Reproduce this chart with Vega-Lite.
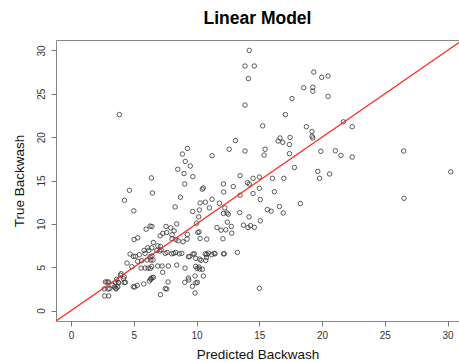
{
  "$schema": "https://vega.github.io/schema/vega-lite/v6.json",
  "autosize": {"type": "none"},
  "padding": {"left": 56, "top": 40, "right": 0, "bottom": 41},
  "width": 403,
  "height": 281,
  "background": "white",
  "title": {"text": "Linear Model", "font": "Liberation Sans", "fontSize": 17.5, "fontWeight": "bold", "color": "#000", "offset": 13, "anchor": "middle"},
  "config": {
    "view": {"stroke": "#888", "strokeWidth": 1},
    "axis": {"grid": false, "domain": false, "tickColor": "#777", "tickSize": 5, "labelFont": "Liberation Sans", "labelFontSize": 10, "labelColor": "#333", "titleFont": "Liberation Sans", "titleFontSize": 13.5, "titleFontWeight": "normal", "titleColor": "#111"}
  },
  "datasets": {
    "pts": [
      {"p":14.2,"t":30.0},{"p":13.86,"t":28.2},{"p":14.13,"t":26.75},{"p":13.86,"t":23.7},{"p":3.85,"t":22.6},{"p":13.1,"t":19.6},{"p":9.27,"t":18.7},{"p":12.6,"t":18.6},{"p":13.86,"t":18.4},{"p":8.87,"t":18.05},{"p":11.24,"t":17.86},{"p":9.1,"t":17.2},{"p":9.5,"t":16.67},{"p":8.5,"t":16.3},{"p":9.0,"t":15.8},{"p":9.7,"t":15.45},{"p":6.4,"t":15.3},{"p":13.47,"t":15.56},
      {"p":14.6,"t":28.2},{"p":19.34,"t":27.5},{"p":19.97,"t":26.9},{"p":20.48,"t":27.05},{"p":18.54,"t":25.7},{"p":19.26,"t":25.75},{"p":19.26,"t":25.3},{"p":20.48,"t":24.7},{"p":17.6,"t":24.45},{"p":17.08,"t":22.6},{"p":15.27,"t":21.3},{"p":21.7,"t":21.77},{"p":22.4,"t":21.2},{"p":18.75,"t":21.2},{"p":19.2,"t":20.65},{"p":19.2,"t":20.1},{"p":19.26,"t":19.9},{"p":16.65,"t":19.9},{"p":16.5,"t":19.55},{"p":16.87,"t":19.4},{"p":17.45,"t":19.97},{"p":17.4,"t":19.15},{"p":15.46,"t":18.6},{"p":15.38,"t":17.93},{"p":17.4,"t":18.1},{"p":19.9,"t":18.36},{"p":21.06,"t":18.43},{"p":21.5,"t":17.9},{"p":22.4,"t":17.7},{"p":26.5,"t":18.4},{"p":17.8,"t":16.5},{"p":19.66,"t":16.06},{"p":20.6,"t":15.75},{"p":30.25,"t":16.0},{"p":15.0,"t":15.4},{"p":14.5,"t":15.25},{"p":16.04,"t":15.25},{"p":16.95,"t":15.25},{"p":19.8,"t":15.25},
      {"p":14.5,"t":13.5},{"p":15.0,"t":14.1},{"p":16.2,"t":13.7},{"p":15.08,"t":12.8},{"p":26.53,"t":12.95},{"p":15.64,"t":11.65},{"p":15.94,"t":11.46},{"p":16.6,"t":12.0},{"p":16.9,"t":11.26},{"p":18.27,"t":12.34},{"p":14.3,"t":9.8},{"p":14.6,"t":9.6},{"p":15.08,"t":10.35},{"p":15.0,"t":2.57},
      {"p":14.05,"t":14.76},{"p":14.2,"t":14.6},{"p":9.06,"t":14.6},{"p":10.54,"t":14.14},{"p":10.46,"t":14.0},{"p":12.14,"t":14.6},{"p":12.93,"t":14.3},{"p":4.65,"t":13.87},{"p":6.48,"t":13.56},{"p":12.17,"t":13.68},{"p":13.47,"t":13.3},{"p":8.71,"t":13.07},{"p":11.24,"t":12.84},{"p":4.25,"t":12.72},{"p":10.28,"t":12.41},{"p":10.7,"t":12.5},{"p":11.82,"t":12.38},{"p":8.29,"t":11.95},{"p":12.25,"t":11.84},{"p":11.02,"t":11.84},{"p":5.0,"t":11.5},{"p":9.7,"t":11.43},{"p":10.22,"t":11.6},{"p":12.14,"t":11.2},{"p":12.43,"t":11.26},{"p":12.53,"t":11.11},{"p":13.44,"t":11.3},{"p":10.17,"t":10.8},{"p":14.18,"t":10.8},{"p":12.45,"t":10.2},{"p":8.42,"t":10.0},{"p":7.57,"t":9.7},{"p":7.94,"t":9.54},{"p":6.3,"t":9.74},{"p":6.45,"t":9.7},{"p":5.98,"t":9.39},{"p":8.21,"t":9.2},{"p":10.0,"t":10.08},{"p":11.63,"t":9.58},{"p":11.95,"t":9.27},{"p":12.33,"t":9.31},{"p":13.73,"t":9.85},{"p":14.1,"t":9.58},{"p":12.77,"t":9.7},{"p":12.8,"t":8.93},{"p":10.1,"t":9.0},{"p":10.2,"t":9.08},{"p":7.3,"t":8.9},{"p":7.62,"t":9.0},{"p":8.05,"t":8.74},{"p":7.1,"t":8.62},{"p":9.27,"t":8.78},{"p":5.02,"t":8.2},{"p":5.31,"t":8.39},{"p":8.05,"t":8.28},{"p":8.34,"t":8.2},{"p":8.53,"t":8.05},{"p":9.24,"t":8.24},{"p":8.92,"t":7.93},{"p":10.28,"t":8.32},{"p":10.81,"t":8.24},{"p":12.1,"t":8.28},{"p":6.56,"t":7.86},{"p":6.11,"t":7.24},{"p":6.43,"t":7.24},{"p":6.91,"t":7.47},{"p":7.12,"t":7.4},{"p":5.82,"t":6.94},{"p":6.19,"t":6.94},{"p":6.83,"t":6.94},{"p":7.07,"t":6.86},{"p":7.17,"t":7.01},{"p":7.5,"t":6.6},{"p":7.65,"t":6.71},{"p":8.02,"t":6.55},{"p":8.18,"t":6.6},{"p":8.34,"t":6.71},{"p":8.63,"t":6.55},{"p":8.82,"t":6.6},{"p":9.72,"t":6.52},{"p":9.82,"t":6.55},{"p":10.7,"t":6.55},{"p":10.81,"t":6.48},{"p":10.94,"t":6.63},{"p":11.21,"t":6.44},{"p":11.4,"t":6.6},{"p":11.47,"t":6.55},{"p":12.14,"t":6.55},{"p":12.21,"t":6.55},{"p":13.25,"t":6.71},{"p":4.7,"t":6.52},{"p":4.96,"t":6.25},{"p":5.12,"t":6.25},{"p":5.44,"t":6.44},{"p":5.9,"t":6.6},{"p":6.3,"t":6.2},{"p":6.45,"t":6.29},{"p":5.63,"t":5.75},{"p":5.31,"t":5.68},{"p":6.06,"t":5.83},{"p":6.35,"t":5.83},{"p":6.53,"t":5.83},{"p":9.35,"t":6.2},{"p":9.46,"t":6.25},{"p":9.93,"t":6.02},{"p":10.25,"t":5.94},{"p":10.36,"t":5.79},{"p":10.73,"t":5.79},{"p":10.8,"t":6.13},{"p":4.46,"t":5.48},{"p":4.84,"t":5.06},{"p":5.58,"t":4.9},{"p":5.9,"t":4.9},{"p":6.14,"t":4.9},{"p":6.32,"t":4.87},{"p":6.43,"t":5.1},{"p":6.91,"t":5.14},{"p":7.25,"t":5.14},{"p":7.75,"t":5.14},{"p":8.42,"t":5.25},{"p":9.08,"t":4.9},{"p":9.93,"t":5.1},{"p":10.04,"t":4.87},{"p":10.2,"t":5.02},{"p":10.25,"t":4.79},{"p":10.46,"t":4.76},{"p":10.54,"t":3.99},{"p":9.88,"t":3.99},{"p":9.35,"t":3.76},{"p":7.3,"t":4.41},{"p":6.56,"t":3.84},{"p":6.35,"t":3.64},{"p":3.94,"t":4.07},{"p":4.18,"t":3.68},{"p":4.24,"t":3.9},{"p":3.63,"t":3.61},{"p":3.76,"t":3.26},{"p":3.57,"t":3.26},{"p":3.27,"t":2.92},{"p":3.45,"t":2.72},{"p":3.72,"t":2.72},{"p":2.73,"t":3.3},{"p":2.87,"t":3.3},{"p":2.97,"t":3.3},{"p":2.65,"t":2.5},{"p":2.95,"t":2.5},{"p":3.08,"t":2.53},{"p":2.68,"t":1.69},{"p":3.0,"t":1.69},{"p":3.56,"t":2.57},{"p":4.25,"t":3.22},{"p":4.96,"t":2.76},{"p":5.07,"t":2.72},{"p":5.28,"t":2.92},{"p":5.79,"t":3.07},{"p":6.24,"t":3.41},{"p":6.37,"t":3.64},{"p":6.45,"t":3.79},{"p":7.51,"t":2.53},{"p":7.62,"t":2.49},{"p":7.73,"t":3.3},{"p":7.12,"t":1.84},{"p":9.06,"t":3.26},{"p":9.67,"t":2.8},{"p":9.88,"t":2.03},{"p":9.95,"t":3.2},{"p":3.98,"t":4.25},{"p":9.38,"t":3.53},{"p":10.06,"t":3.26},{"p":3.8,"t":3.2},{"p":3.59,"t":2.5},{"p":4.33,"t":3.26}
    ],
    "fit": [{"p":-1.2,"t":-1.2},{"p":30.91,"t":30.91}]
  },
  "layer": [
    {
      "data": {"name": "pts"},
      "mark": {"type": "point", "shape": "circle", "filled": false, "stroke": "#333", "strokeWidth": 0.8, "size": 20, "opacity": 1},
      "encoding": {
        "x": {"field": "p", "type": "quantitative", "scale": {"domain": [-1.2, 30.91], "nice": false, "zero": false}, "axis": {"values": [0,5,10,15,20,25,30], "title": "Predicted Backwash", "labelPadding": 4, "titlePadding": 7}},
        "y": {"field": "t", "type": "quantitative", "scale": {"domain": [-1.2, 31.2], "nice": false, "zero": false}, "axis": {"values": [0,5,10,15,20,25,30], "title": "True Backwash", "labelAngle": -90, "labelPadding": 5, "titlePadding": 10}}
      }
    },
    {
      "data": {"name": "fit"},
      "mark": {"type": "line", "color": "#ff2a1a", "strokeWidth": 1.3, "clip": true},
      "encoding": {
        "x": {"field": "p", "type": "quantitative"},
        "y": {"field": "t", "type": "quantitative"}
      }
    }
  ]
}
